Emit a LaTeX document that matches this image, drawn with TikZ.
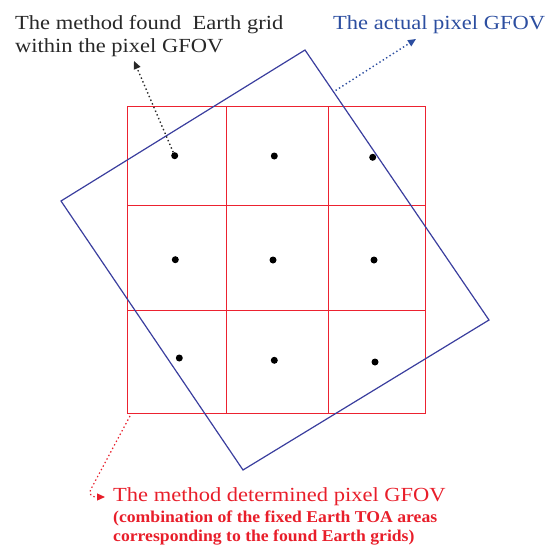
\documentclass[tikz,border=0pt]{standalone}
\usepackage{fontspec}
\setmainfont{Liberation Serif}
\usetikzlibrary{arrows.meta,calc}
\definecolor{gridred}{RGB}{236,34,48}
\definecolor{rectblue}{RGB}{58,62,158}
\definecolor{textblue}{RGB}{44,78,160}
\definecolor{textred}{RGB}{232,30,42}
\definecolor{textblack}{RGB}{40,40,40}
\newcommand\widetxt[1]{\scalebox{1.125}[1]{#1}}
\newcommand\subtxt[1]{\scalebox{1.07}[1]{#1}}
\tikzset{
  gridline/.style={draw=gridred, line width=1pt},
  rectline/.style={draw=rectblue, line width=1.2pt, line join=miter},
  gdot/.style={circle, fill=black, inner sep=0pt, minimum size=7pt},
  dotarrow/.style={line width=1.4pt, dash pattern=on 1.4pt off 2.6pt, -{Triangle[length=8pt,width=7pt]}},
  lbl/.style={anchor=base west, inner sep=0pt, font=\fontsize{20}{24}\selectfont},
  sublbl/.style={anchor=base west, inner sep=0pt, font=\bfseries\fontsize{16.5}{19}\selectfont},
}
\begin{document}
\begin{tikzpicture}[x=1pt,y=-1pt]
\useasboundingbox (0,0) rectangle (552,546);
% grid
\draw[gridline] (127.5,106.7) rectangle (425,413);
\draw[gridline] (226,106.7) -- (226,413);
\draw[gridline] (328,106.7) -- (328,413);
\draw[gridline] (127.5,205) -- (425,205);
\draw[gridline] (127.5,310) -- (425,310);
\coordinate (gbl) at (130,416);
% actual pixel GFOV
\coordinate (rt) at (305,50);
\coordinate (rr) at (489,320);
\coordinate (rb) at (243,470);
\coordinate (rl) at (61,201);
\draw[rectline] (rt) -- (rr) -- (rb) -- (rl) -- cycle;
% dots
\node[gdot] (d11) at (174.7,155.7) {};
\node[gdot] (d12) at (274.3,156) {};
\node[gdot] (d13) at (372.7,157.3) {};
\node[gdot] (d21) at (175.3,259.7) {};
\node[gdot] (d22) at (273,260) {};
\node[gdot] (d23) at (374,260) {};
\node[gdot] (d31) at (179.3,358) {};
\node[gdot] (d32) at (274.3,360.3) {};
\node[gdot] (d33) at (375,362) {};
% labels
\node[lbl, text=textblack] (la1) at (15,29) {\widetxt{The method found\ \ Earth grid}};
\node[lbl, text=textblack] (la2) at (15,52) {\widetxt{within the pixel GFOV}};
\node[lbl, text=textblue] (lb) at (333,29) {\widetxt{The actual pixel GFOV}};
\node[lbl, text=textred] (lc1) at (113,501) {\widetxt{The method determined pixel GFOV}};
\node[sublbl, text=textred] (lc2) at (113,522) {\subtxt{(combination of the fixed Earth TOA areas}};
\node[sublbl, text=textred] (lc3) at (113,541) {\subtxt{corresponding to the found Earth grids)}};
% arrows
\coordinate (ta) at (134,61);
\draw[dotarrow, textblack] (d11) -- (ta);
\coordinate (bs) at ($(rt)!0.15!(rr)$);
\coordinate (tb) at (416,39);
\draw[dotarrow, textblue] ($(bs)+(3,0)$) -- (tb);
\coordinate (tc) at (105,497);
\draw[dotarrow, textred, line width=1.2pt] (gbl) -- (91,489) .. controls (88,495) and (92,497) .. (tc);
\end{tikzpicture}
\end{document}
